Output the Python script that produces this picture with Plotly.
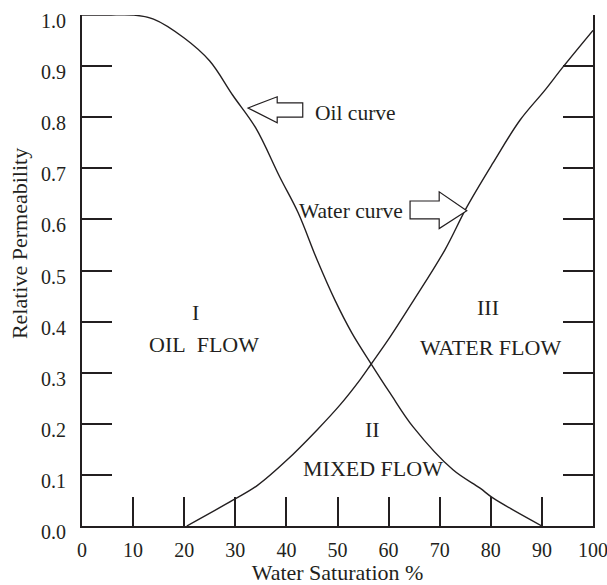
import plotly.graph_objects as go

# ---- data ----
oil_sw = [0, 5, 10, 14, 20, 25, 29.5, 34, 38.7, 42.3, 46, 49.5, 52.8, 56.6, 60.3, 64.8, 72.6, 77.9, 80.4, 90]
oil_kr = [1.0, 1.0, 1.0, 0.992, 0.955, 0.91, 0.843, 0.779, 0.683, 0.613, 0.521, 0.442, 0.378, 0.317, 0.26, 0.194, 0.11, 0.074, 0.055, 0.0]

water_sw = [20.5, 29.6, 34.4, 40.1, 46, 50.5, 54.4, 56.6, 60.3, 64.8, 71, 75.3, 80.4, 85.7, 90.6, 94.1, 100]
water_kr = [0.0, 0.051, 0.08, 0.129, 0.188, 0.237, 0.286, 0.317, 0.37, 0.44, 0.54, 0.624, 0.71, 0.794, 0.853, 0.898, 0.97]

x_ticks = [0, 10, 20, 30, 40, 50, 60, 70, 80, 90, 100]
x_tick_labels = [str(v) for v in x_ticks]
y_ticks = [0.0, 0.1, 0.2, 0.3, 0.4, 0.5, 0.6, 0.7, 0.8, 0.9, 1.0]
y_tick_labels = ["%.1f" % v for v in y_ticks]
y_minor_ticks = [0.1, 0.2, 0.3, 0.4, 0.5, 0.6, 0.7, 0.8, 0.9]

FONT = "Liberation Serif"
INK = "#231f20"

fig = go.Figure()
fig.add_trace(go.Scatter(x=oil_sw, y=oil_kr, mode="lines", line=dict(color=INK, width=1.4),
                         line_shape="spline", hoverinfo="skip", showlegend=False))
fig.add_trace(go.Scatter(x=water_sw, y=water_kr, mode="lines", line=dict(color=INK, width=1.4),
                         line_shape="spline", hoverinfo="skip", showlegend=False, yaxis="y2"))

# hollow block arrows
oil_arrow = "M 32.5,0.818 L 38.2,0.840 L 38.2,0.828 L 43.2,0.828 L 43.2,0.800 L 38.2,0.800 L 38.2,0.789 Z"
water_arrow = "M 75.3,0.617 L 69.9,0.654 L 69.9,0.636 L 64.2,0.636 L 64.2,0.601 L 69.9,0.601 L 69.9,0.582 Z"
for p in (oil_arrow, water_arrow):
    fig.add_shape(type="path", path=p, xref="x", yref="y",
                  line=dict(color=INK, width=1.2), fillcolor="white")

def ann(text, x, y, xanchor="center", size=22):
    fig.add_annotation(text=text, x=x, y=y, xref="x", yref="y", showarrow=False,
                       xanchor=xanchor, yanchor="middle",
                       font=dict(family=FONT, size=size, color=INK))

ann("Oil curve", 45.2, 0.808, "left", 21.5)
ann("Water curve", 63.2, 0.616, "right", 21.5)
ann("I", 22.3, 0.417)
ann("OIL\u00a0 FLOW", 23.9, 0.356)
ann("III", 79.5, 0.427)
ann("WATER FLOW", 80.0, 0.350)
ann("II", 56.8, 0.188)
ann("MIXED FLOW", 56.9, 0.113)

# y-axis title placed as rotated text
fig.add_annotation(text="Relative Permeability", x=-0.122, y=0.553, xref="paper", yref="paper",
                   showarrow=False, textangle=-90, xanchor="center", yanchor="middle",
                   font=dict(family=FONT, size=22, color=INK))

fig.update_layout(
    width=607, height=585,
    margin=dict(l=82, r=14, t=15, b=59, autoexpand=False),
    paper_bgcolor="white", plot_bgcolor="white",
    font=dict(family=FONT, size=20, color=INK),
    xaxis=dict(range=[0, 100], tickvals=x_ticks, ticktext=x_tick_labels,
               ticks="inside", ticklen=29, tickwidth=1.5, tickcolor=INK,
               showline=True, linewidth=2, linecolor=INK, mirror=False,
               showgrid=False, zeroline=False, ticklabelstandoff=5, automargin=False,
               ticklabeloverflow="allow",
               title=dict(text="Water Saturation %", font=dict(family=FONT, size=22, color=INK), standoff=5)),
    yaxis=dict(range=[0, 1.0], tickvals=y_ticks, ticktext=y_tick_labels,
               ticks="", showline=True, linewidth=2, linecolor=INK, mirror=True,
               showgrid=False, zeroline=False, ticklabelshift=6, ticklabelstandoff=10,
               ticklabeloverflow="allow", automargin=False),
    yaxis2=dict(range=[0, 1.0], overlaying="y", side="left", anchor="x",
                tickvals=y_minor_ticks, showticklabels=False,
                ticks="inside", ticklen=30, tickwidth=1.5, tickcolor=INK,
                showline=True, linewidth=2, linecolor=INK, mirror="ticks",
                showgrid=False, zeroline=False, automargin=False),
)

fig.write_html("out.html", config={"displayModeBar": False},
               post_script="document.body.style.margin='0';")
